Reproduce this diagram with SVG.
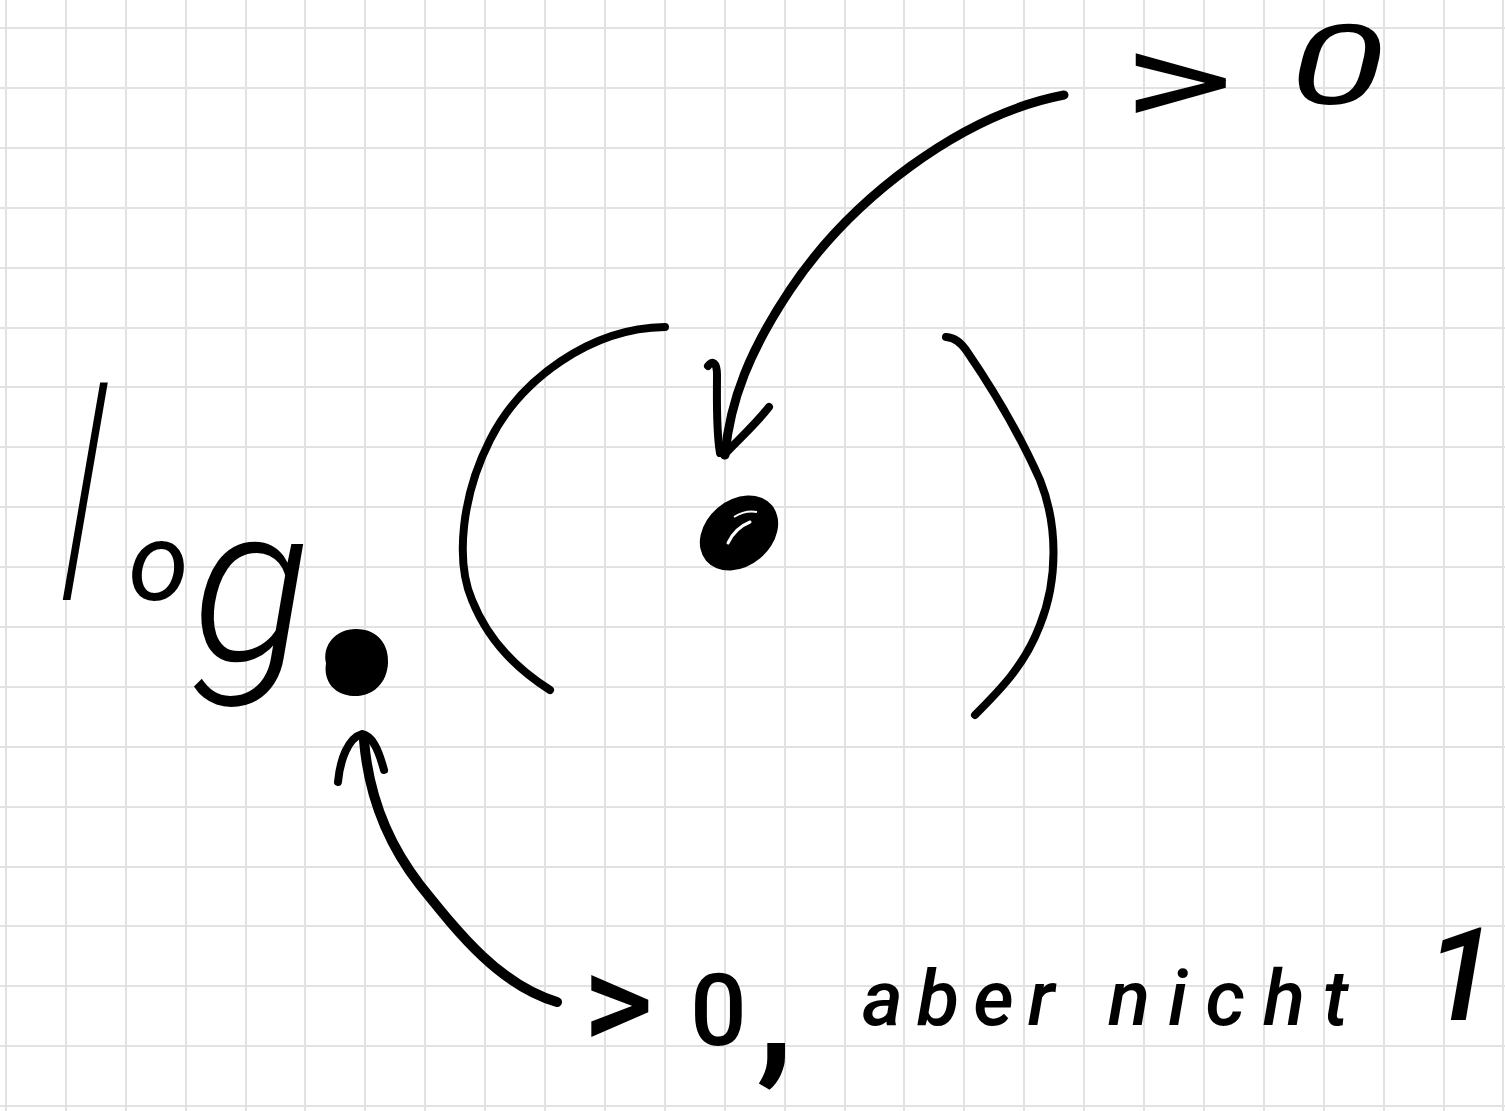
<svg xmlns="http://www.w3.org/2000/svg" width="1505" height="1111" viewBox="0 0 1505 1111">
<style>
.grid{stroke:#e2e2e2;stroke-width:2;fill:none}
.ink{stroke:#000;fill:none;stroke-linecap:round;stroke-linejoin:round}
.hand{font-family:Roboto,"Liberation Sans",sans-serif;fill:#000}
</style>
<rect width="1505" height="1111" fill="#fff"/>
<g id="grid" class="grid">
<path d="M6 0V1111M66 0V1111M126 0V1111M186 0V1111M246 0V1111M305 0V1111M365 0V1111M425 0V1111M485 0V1111M545 0V1111M605 0V1111M665 0V1111M725 0V1111M785 0V1111M845 0V1111M904 0V1111M964 0V1111M1024 0V1111M1084 0V1111M1144 0V1111M1204 0V1111M1264 0V1111M1324 0V1111M1384 0V1111M1444 0V1111M1503 0V1111"/>
<path d="M0 28H1505M0 88H1505M0 148H1505M0 208H1505M0 268H1505M0 328H1505M0 387H1505M0 447H1505M0 507H1505M0 567H1505M0 627H1505M0 687H1505M0 747H1505M0 807H1505M0 867H1505M0 926H1505M0 986H1505M0 1046H1505M0 1106H1505"/>
</g>
<g id="log-label">
<text class="hand" font-style="italic"><tspan x="52" y="600" font-size="290" font-weight="100">l</tspan><tspan x="128" y="600" font-size="110" font-weight="400">o</tspan><tspan x="192" y="660" font-size="220" font-weight="300">g</tspan></text>
</g>
<g id="base-dot">
<path d="M356,629 C378,629 389,645 388,663 C387,684 372,697 353,696 C336,695 323,683 326,663 C322,645 336,629 356,629 Z" fill="#000"/>
</g>
<g id="parens">
<path class="ink" stroke-width="8" d="M665,327 C590,328 520,380 490,440 C462,495 455,560 472,600 C488,640 515,668 550,690"/>
<path class="ink" stroke-width="8" d="M946,337 C955,338 960,342 966,350 C990,385 1020,435 1040,480 C1058,525 1058,580 1040,625 C1025,665 1000,690 975,715"/>
</g>
<g id="arg-dot">
<ellipse cx="739" cy="533" rx="43" ry="33" transform="rotate(-40 739 533)" fill="#000"/>
<path d="M734,517 Q745,510 757,512" stroke="#fff" stroke-width="2" fill="none"/>
<path d="M728,543 Q735,528 750,522" stroke="#fff" stroke-width="3" fill="none" stroke-linecap="round"/>
</g>
<g id="label-arg">
<text class="hand" transform="scale(1.6,1)"><tspan x="701" y="126" font-size="135">&gt;</tspan><tspan x="806" y="104" font-size="110" font-style="italic">0</tspan></text>
</g>
<g id="label-base">
<text class="hand" font-weight="500"><tspan x="583" y="1048" font-size="135">&gt;</tspan><tspan x="690" y="1045" font-size="100">0</tspan><tspan x="756" y="1062" font-size="170">,</tspan> <tspan x="862" y="1025" font-size="78" font-style="italic" letter-spacing="14">aber</tspan> <tspan x="1108" y="1025" font-size="78" font-style="italic" letter-spacing="18">nicht</tspan> <tspan x="1425" y="1020" font-size="130" font-style="italic">1</tspan></text>
</g>
<g id="connectors">
<g id="arrow-arg">
<path class="ink" stroke-width="9" d="M1064,95 C960,115 850,200 790,290 C750,350 730,400 725,455"/>
<path class="ink" stroke-width="8" d="M708,366 C712,360 717,362 717,375 C717,400 716,430 720,453"/>
<path class="ink" stroke-width="8" d="M769,407 C755,425 738,440 724,455"/>
</g>
<g id="arrow-base">
<path class="ink" stroke-width="10" d="M557,1002 C500,985 460,935 420,885 C385,840 368,790 364,740"/>
<path class="ink" stroke-width="8" d="M338,782 C340,760 348,738 362,734 C372,736 378,748 384,770"/>
</g>
</g>
</svg>
